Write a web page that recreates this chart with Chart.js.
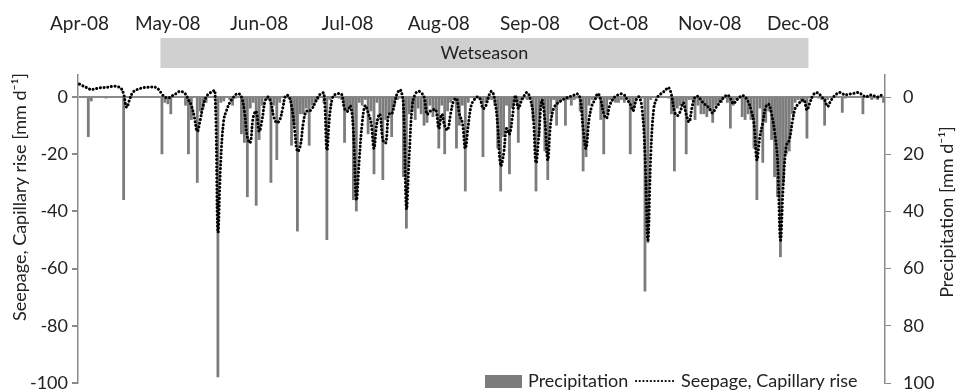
<!DOCTYPE html>
<html>
<head>
<meta charset="utf-8">
<script src="https://cdn.jsdelivr.net/npm/chart.js@4.4.1/dist/chart.umd.min.js"></script>
<style>
  html, body { margin: 0; padding: 0; background: #fff; }
  #wrap { width: 959px; height: 390px; position: relative; }
</style>
</head>
<body>
<div id="wrap"><canvas id="chart"></canvas></div>
<script>
// daily precipitation [mm/d], 1 Apr 2008 onwards
const precipitation = [
  0, 0, 0, 14, 1.5, 0, 0, 0, 0, 0.5,
  0, 0, 0, 0, 0, 36, 0, 0, 0, 0,
  0, 0, 0, 0, 0, 0, 0, 0, 20, 2,
  2.5, 6, 0, 0, 0, 0, 3, 20, 8, 0,
  30, 5, 4, 2, 0, 0, 0.5, 98, 2, 1.5,
  0, 1, 3, 0.5, 0, 13, 16, 35, 4, 2,
  38, 15, 3, 0, 1, 30, 3, 22, 2, 0,
  0, 0.5, 17, 10, 47, 6, 6, 4, 17, 3,
  2, 1, 0, 2, 50, 1, 0, 0, 0.5, 1,
  16, 5, 3, 36, 40, 2, 3, 1, 13, 5,
  27, 2, 6, 29, 8, 6, 14, 3, 1, 0.5,
  28, 46, 6, 5, 8, 4, 6, 10, 9, 3,
  7, 5, 18, 3, 20, 5, 2, 1, 18, 10,
  3, 33, 2, 0, 0.5, 0, 1, 21, 2, 1,
  1, 3, 18, 33, 14, 3, 27, 4, 2, 16,
  1, 0.5, 1, 1, 8, 33, 14, 3, 19, 29,
  6, 1, 10, 2, 1, 10, 1, 3, 1, 0.5,
  5, 26, 21, 3, 1, 1, 0.5, 8, 20, 6,
  1, 1, 2, 2, 1, 2, 1, 20, 4, 1,
  0, 0.5, 68, 51, 1, 0, 0, 0, 0, 0,
  0.5, 6, 26, 4, 3, 2, 20, 1, 1, 8,
  3, 6, 6, 7, 5, 9, 3, 2, 2, 0.5,
  2, 11, 3, 1, 0.5, 7, 8, 6, 8, 18,
  36, 4, 23, 9, 5, 15, 28, 35, 56, 30,
  20, 19, 6, 2, 1, 2, 1, 14.5, 0.5, 0,
  0, 0.5, 1, 10, 1, 0, 0, 0, 0, 5.5,
  0.5, 0, 0, 0, 0, 0, 6, 0, 0, 1,
  0.5, 1, 0, 2
];

// daily seepage (-) / capillary rise (+) [mm/d]
const seepage = [
  4.5, 4, 3.5, 3, 2.6, 2.8, 3, 3.2, 3.3, 3.4,
  3.5, 3.7, 3.8, 3.6, 3.2, 1, -3.6, -1, 1.5, 2.3,
  2.8, 3.1, 3.3, 3.4, 3.5, 3.5, 3.3, 2.5, 1, 0,
  -0.3, 0, 0.8, 1.3, 2, 1.8, 1, -1, -3, -7,
  -12, -8, -3, 0, 1.2, 1.8, 2.2, -47, -22, -8,
  -4.5, -2, -0.5, 0.8, 1.2, 0, -5, -14, -16, -7,
  -5, -12, -8, -1.5, 0, -2, -7, -9, -8, -4,
  0.5, 0.3, -3, -11, -19, -17, -9, -5, -5, -4,
  -2, 0, 1.2, 1.3, -18.5, -6, 0, 1, 1.2, 1,
  -4, -5, -3, -12, -36, -22, -9, -3, -5.5, -9,
  -18, -9, -6, -15, -16, -6, -6, -2, 1.5, 2.5,
  -3, -39, -20, -3, 1, 2, 1.5, 0, -6, -5,
  -4.5, -4.5, -11, -6, -10, -11.5, -6, -1.5, -0.5, -6,
  -9, -18, -10, -3, -1, 0, -0.5, -4, -3, 0.5,
  2, -1, -10, -24, -20, -11, -13, -7, 0.5, -4,
  -1.5, 0.5, 1.6, -0.5, -6, -23, -13, -1, -8, -22,
  -9, -4, -2.5, -1.7, -1, -0.5, 0, 0.3, 0.7, 1.1,
  -0.5, -11, -18, -8, -3, -1, 1.2, -1, -5.8, -7.4,
  -3, -1, 0.3, 0.8, 1.1, 0.7, -1, -2.5, -4.8, -1,
  0, -4, -20, -50, -20, -4, -0.5, 0.8, 1.5, 2.5,
  3.3, 0.7, -5, -6.5, -5, -2, -6, -8.7, -3.5, 0,
  0.2, -1, -2.3, -3, -4.2, -5.6, -3.8, -2.5, -1, 0,
  0.7, -0.5, -2.3, -1.2, -0.2, 0.5, 0, -1.5, -4.5, -9,
  -22, -14, -9, -3.5, -2.5, -6, -12, -22, -50, -30,
  -17, -15, -9, -4, -2.5, -1.5, -1, -4.5, -2, 0.5,
  1.5, 1.2, 0, -1, -3.3, -1.5, 0, 1, 1.6, 1.2,
  0.7, 1, 1.1, 1.3, 1.6, 1.3, 0.6, 0, 0.5, 0.7,
  0.3, 0, 0.5, 1.2
];

const monthLabels = ['Apr-08', 'May-08', 'Jun-08', 'Jul-08', 'Aug-08', 'Sep-08', 'Oct-08', 'Nov-08', 'Dec-08'];
const leftTicks = [0, -20, -40, -60, -80, -100];
const rightTicks = [0, 20, 40, 60, 80, 100];
const wetSeason = ['2008-04-29', '2008-12-04'];
const wetSeasonLabel = 'Wetseason';

// one category per day
const days = [];
const start = Date.UTC(2008, 3, 1);
for (let i = 0; i < precipitation.length; i++) {
    days.push(new Date(start + i * 86400000).toISOString().slice(0, 10));
}

const textColor = '#222';
const axisGrey = '#8a8a8a';
Chart.defaults.font.family = 'Lato';
Chart.defaults.font.size = 18;
Chart.defaults.color = textColor;

const overlay = {
    id: 'overlay',
    afterDraw(chart) {
        const ctx = chart.ctx;
        const x = chart.scales.x;
        ctx.save();

        // wet season band above the plot
        const i0 = days.indexOf(wetSeason[0]);
        const i1 = days.indexOf(wetSeason[1]);
        const bx0 = x.getPixelForValue(i0 - 0.5);
        const bx1 = x.getPixelForValue(i1 + 0.5);
        ctx.fillStyle = '#d0d0d0';
        ctx.fillRect(bx0, 38, bx1 - bx0, 30);
        ctx.fillStyle = textColor;
        ctx.font = '18px Lato';
        ctx.textAlign = 'center';
        ctx.textBaseline = 'middle';
        ctx.fillText(wetSeasonLabel, (bx0 + bx1) / 2, 53);

        // axis titles
        ctx.save();
        ctx.translate(20, 197);
        ctx.rotate(-Math.PI / 2);
        ctx.fillText('Seepage, Capillary rise [mm d\u207B\u00B9]', 0, 0);
        ctx.restore();
        ctx.save();
        ctx.translate(947, 212);
        ctx.rotate(-Math.PI / 2);
        ctx.fillText('Precipitation [mm d\u207B\u00B9]', 0, 0);
        ctx.restore();

        // legend
        const ds = chart.data.datasets;
        const ly = 381;
        ctx.textAlign = 'left';
        ctx.fillStyle = ds[0].backgroundColor;
        ctx.fillRect(485, ly - 6, 37, 13);
        ctx.fillStyle = textColor;
        ctx.fillText(ds[0].label, 528, ly);
        ctx.strokeStyle = ds[1].borderColor;
        ctx.lineWidth = 2.2;
        ctx.lineCap = 'round';
        ctx.setLineDash([0.1, 3.6]);
        ctx.beginPath();
        ctx.moveTo(636, ly);
        ctx.lineTo(676, ly);
        ctx.stroke();
        ctx.setLineDash([]);
        ctx.fillText(ds[1].label, 681, ly);
        ctx.restore();
    }
};

const noVerticalPadding = (s) => { s.paddingTop = 0; s.paddingBottom = 0; };

new Chart(document.getElementById('chart'), {
    data: {
        labels: days,
        datasets: [
            {
                type: 'bar',
                label: 'Precipitation',
                data: precipitation,
                yAxisID: 'y1',
                backgroundColor: '#7c7c7c',
                barPercentage: 0.95,
                categoryPercentage: 1,
                order: 2,
            },
            {
                type: 'line',
                label: 'Seepage, Capillary rise',
                data: seepage,
                yAxisID: 'y',
                borderColor: '#000',
                borderWidth: 3,
                borderDash: [0.1, 3.6],
                borderCapStyle: 'round',
                pointRadius: 0,
                tension: 0.4,
                fill: false,
                order: 1,
            },
        ],
    },
    options: {
        responsive: true,
        maintainAspectRatio: false,
        animation: false,
        layout: { padding: { top: 0, left: 0, right: 0, bottom: 7 } },
        plugins: {
            legend: { display: false },
            tooltip: { enabled: false },
        },
        scales: {
            x: {
                type: 'category',
                position: 'top',
                offset: true,
                grid: { display: false, drawTicks: false },
                border: { display: false },
                ticks: {
                    autoSkip: false,
                    maxRotation: 0,
                    padding: 40,
                    font: { size: 19 },
                    callback: function (value) {
                        const d = days[value];
                        if (d.endsWith('-01')) return monthLabels[+d.slice(5, 7) - 4];
                        return null;
                    },
                },
                afterFit: (s) => { s.height = 75; },
            },
            y: {
                position: 'left',
                min: -100,
                max: 7.7,
                border: { display: true, color: axisGrey, width: 1.5 },
                grid: {
                    color: (c) => (c.tick && c.tick.value === 0 ? axisGrey : 'rgba(0,0,0,0)'),
                    lineWidth: 2,
                    tickColor: axisGrey,
                    tickLength: 6,
                },
                ticks: { padding: 4 },
                afterBuildTicks: (s) => { s.ticks = leftTicks.map((v) => ({ value: v })); },
                afterFit: (s) => { s.width = 78; noVerticalPadding(s); },
            },
            y1: {
                position: 'right',
                reverse: true,
                min: -7.7,
                max: 100,
                border: { display: true, color: axisGrey, width: 1.5 },
                grid: { drawOnChartArea: false, tickColor: axisGrey, tickLength: 6 },
                ticks: { padding: 12 },
                afterBuildTicks: (s) => { s.ticks = rightTicks.map((v) => ({ value: v })); },
                afterFit: (s) => { s.width = 74; noVerticalPadding(s); },
            },
        },
    },
    plugins: [overlay],
});
</script>
</body>
</html>
